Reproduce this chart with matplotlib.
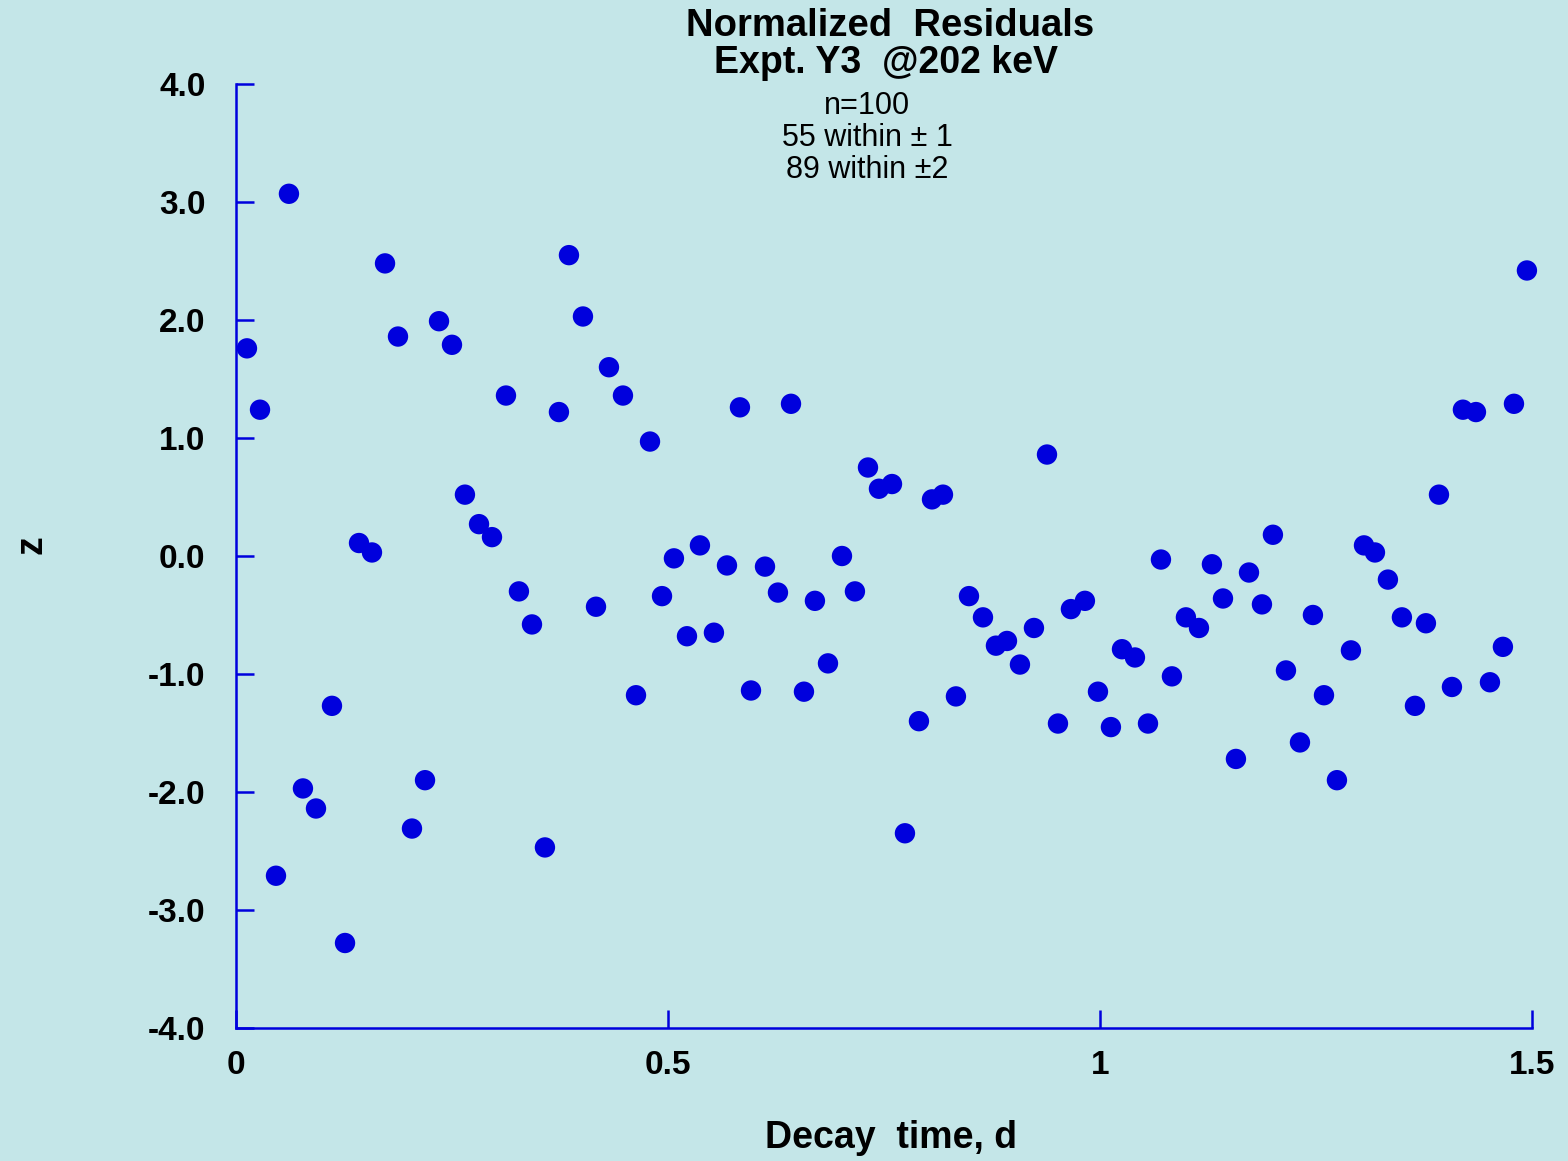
import matplotlib
matplotlib.use("Agg")
import matplotlib.pyplot as plt

# decay time (d) and normalized residual z
decay_time = [0.0127, 0.0278, 0.0463, 0.0613, 0.0775, 0.0926, 0.1111, 0.1262, 0.1424, 0.1574,
              0.1725, 0.1875, 0.2037, 0.2188, 0.2350, 0.2500, 0.2650, 0.2813, 0.2963, 0.3125,
              0.3275, 0.3426, 0.3576, 0.3738, 0.3854, 0.4016, 0.4167, 0.4317, 0.4479, 0.4630,
              0.4792, 0.4931, 0.5069, 0.5220, 0.5370, 0.5532, 0.5683, 0.5833, 0.5961, 0.6123,
              0.6273, 0.6424, 0.6574, 0.6701, 0.6852, 0.7014, 0.7164, 0.7315, 0.7442, 0.7593,
              0.7743, 0.7905, 0.8056, 0.8183, 0.8333, 0.8484, 0.8646, 0.8796, 0.8924, 0.9074,
              0.9236, 0.9387, 0.9514, 0.9664, 0.9826, 0.9977, 1.0127, 1.0255, 1.0405, 1.0556,
              1.0706, 1.0833, 1.0995, 1.1146, 1.1296, 1.1424, 1.1574, 1.1725, 1.1875, 1.2002,
              1.2153, 1.2315, 1.2465, 1.2593, 1.2743, 1.2905, 1.3056, 1.3183, 1.3333, 1.3495,
              1.3646, 1.3773, 1.3924, 1.4074, 1.4201, 1.4352, 1.4514, 1.4664, 1.4792, 1.4942]
z = [1.76, 1.24, -2.71, 3.07, -1.97, -2.14, -1.27, -3.28, 0.11, 0.03,
     2.48, 1.86, -2.31, -1.90, 1.99, 1.79, 0.52, 0.27, 0.16, 1.36,
     -0.30, -0.58, -2.47, 1.22, 2.55, 2.03, -0.43, 1.60, 1.36, -1.18,
     0.97, -0.34, -0.02, -0.68, 0.09, -0.65, -0.08, 1.26, -1.14, -0.09,
     -0.31, 1.29, -1.15, -0.38, -0.91, 0.00, -0.30, 0.75, 0.57, 0.61,
     -2.35, -1.40, 0.48, 0.52, -1.19, -0.34, -0.52, -0.76, -0.72, -0.92,
     -0.61, 0.86, -1.42, -0.45, -0.38, -1.15, -1.45, -0.79, -0.86, -1.42,
     -0.03, -1.02, -0.52, -0.61, -0.07, -0.36, -1.72, -0.14, -0.41, 0.18,
     -0.97, -1.58, -0.50, -1.18, -1.90, -0.80, 0.09, 0.03, -0.20, -0.52,
     -1.27, -0.57, 0.52, -1.11, 1.24, 1.22, -1.07, -0.77, 1.29, 2.42]

xticks = [0, 0.5, 1, 1.5]
xtick_labels = ["0", "0.5", "1", "1.5"]
yticks = [-4, -3, -2, -1, 0, 1, 2, 3, 4]
ytick_labels = ["-4.0", "-3.0", "-2.0", "-1.0", "0.0", "1.0", "2.0", "3.0", "4.0"]

bg = "#c4e6e8"
blue = "#0000dd"
plt.rcParams["font.family"] = ["Liberation Sans", "DejaVu Sans"]

fig = plt.figure(figsize=(15.68, 11.61), dpi=100, facecolor=bg)
ax = fig.add_axes([0.1505, 0.1146, 0.8265, 0.813])
ax.set_facecolor(bg)

ax.scatter(decay_time, z, s=215, color=blue, edgecolors="none", zorder=3, clip_on=False)

ax.set_xlim(0, 1.5)
ax.set_ylim(-4, 4)
ax.set_xticks(xticks)
ax.set_xticklabels(xtick_labels, fontsize=24, fontweight="bold")
ax.set_yticks(yticks)
ax.set_yticklabels(ytick_labels, fontsize=24, fontweight="bold")
ax.tick_params(direction="in", length=13, width=1.8, color=blue)
ax.tick_params(axis="x", pad=16)
ax.tick_params(axis="y", pad=22)

for side in ["top", "right"]:
    ax.spines[side].set_visible(False)
for side in ["left", "bottom"]:
    ax.spines[side].set_color(blue)
    ax.spines[side].set_linewidth(1.8)

# axis titles
fig.text(0.568, 0.020, "Decay  time, d", ha="center", va="center", fontsize=27, fontweight="bold")
fig.text(0.020, 0.531, "z", ha="center", va="center", rotation=90, fontsize=27, fontweight="bold")

fig.text(0.568, 0.978, "Normalized  Residuals", ha="center", va="center", fontsize=27.5, fontweight="bold")
fig.text(0.565, 0.946, "Expt. Y3  @202 keV", ha="center", va="center", fontsize=27, fontweight="bold")
fig.text(0.553, 0.922, "n=100\n55 within \u00b1 1\n89 within \u00b12", ha="center", va="top",
         fontsize=22, linespacing=1.1)

fig.savefig("out.png", dpi=100, facecolor=bg)
